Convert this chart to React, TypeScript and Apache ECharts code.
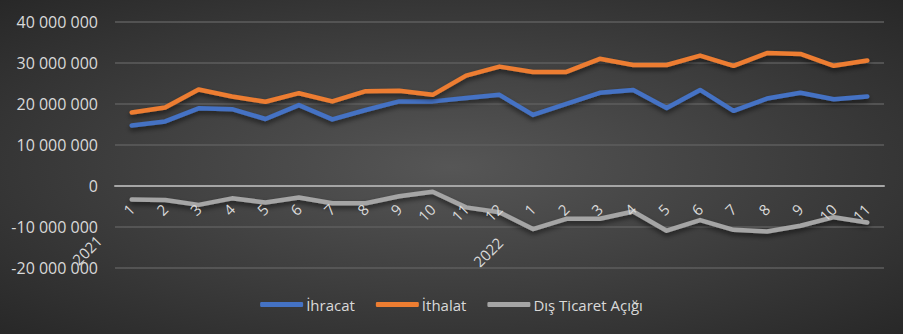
import React, { useEffect, useRef } from "react";
import * as echarts from "echarts";

const categories = ["1","2","3","4","5","6","7","8","9","10","11","12","1","2","3","4","5","6","7","8","9","10","11"];
const yearLabels = ["2021", "2022"];
const seriesNames = ["İhracat", "İthalat", "Dış Ticaret Açığı"];
const ihracat = [14.7,15.7,18.9,18.7,16.3,19.7,16.2,18.5,20.6,20.6,21.4,22.2,17.3,20.0,22.7,23.4,19.0,23.4,18.3,21.3,22.7,21.1,21.8].map(v => v * 1e6);
const ithalat = [17.9,19.1,23.5,21.8,20.5,22.6,20.6,23.1,23.2,22.2,26.9,29.1,27.8,27.8,31.0,29.5,29.5,31.8,29.3,32.4,32.2,29.3,30.6].map(v => v * 1e6);
const acik = [-3.4,-3.5,-4.7,-3.1,-4.1,-2.9,-4.3,-4.3,-2.6,-1.5,-5.3,-6.5,-10.6,-8.1,-8.1,-6.3,-11.0,-8.4,-10.8,-11.2,-9.8,-7.7,-9.0].map(v => v * 1e6);
const colors = ["#4472C4", "#ED7D31", "#A5A5A5"];

const fmt = (v: number) => {
  const s = Math.abs(v).toString().replace(/\B(?=(\d{3})+(?!\d))/g, " ");
  return (v < 0 ? "-" : "") + s;
};

export default function App() {
  const ref = useRef<HTMLDivElement>(null);
  useEffect(() => {
    if (!ref.current) return;
    const chart = echarts.init(ref.current, undefined, { renderer: "svg" });
    const font = "'Open Sans', sans-serif";
    const textColor = "#D9D9D9";
    const mk = (name: string, data: number[], color: string) => ({
      name,
      type: "line",
      data,
      symbol: "none",
      z: 2,
      lineStyle: {
        width: 4.5,
        color,
        cap: "round",
        join: "round",
        shadowColor: "rgba(0,0,0,0.55)",
        shadowBlur: 5,
        shadowOffsetY: 3,
      },
      itemStyle: { color },
    });
    chart.setOption({
      animation: false,
      backgroundColor: {
        type: "radial",
        x: 0.5,
        y: 0.5,
        r: 0.75,
        colorStops: [
          { offset: 0, color: "#565656" },
          { offset: 1, color: "#252525" },
        ],
      },
      grid: { left: 115, right: 19, top: 22, bottom: 66.5, containLabel: false },
      xAxis: {
        type: "category",
        data: categories,
        boundaryGap: true,
        offset: -82,
        z: 5,
        axisLine: { show: true, onZero: false, lineStyle: { color: "#A6A6A6", width: 2 } },
        axisTick: { show: false },
        axisLabel: { rotate: 45, color: textColor, fontFamily: font, fontSize: 15, margin: 21, interval: 0 },
        splitLine: { show: false },
      },
      yAxis: {
        type: "value",
        min: -20000000,
        max: 40000000,
        interval: 10000000,
        axisLine: { show: false },
        axisTick: { show: false },
        axisLabel: { color: textColor, fontFamily: font, fontSize: 16, margin: 17, formatter: fmt },
        splitLine: { lineStyle: { color: "#5E5E5E", width: 1.5 } },
      },
      legend: {
        data: seriesNames,
        bottom: 17,
        left: "center",
        icon: "roundRect",
        itemWidth: 43,
        itemHeight: 5,
        itemGap: 21,
        textStyle: { color: textColor, fontFamily: font, fontSize: 15, padding: [0, 0, 0, -2] },
      },
      graphic: [
        { type: "text", x: 87, y: 250, rotation: Math.PI / 4, style: { text: yearLabels[0], fill: textColor, font: `15px ${font}`, align: "center", verticalAlign: "middle" } },
        { type: "text", x: 488, y: 252, rotation: Math.PI / 4, style: { text: yearLabels[1], fill: textColor, font: `15px ${font}`, align: "center", verticalAlign: "middle" } },
      ],
      series: [
        mk(seriesNames[0], ihracat, colors[0]),
        mk(seriesNames[1], ithalat, colors[1]),
        mk(seriesNames[2], acik, colors[2]),
      ],
    });
    return () => chart.dispose();
  }, []);
  return <div ref={ref} style={{ position: "absolute", left: 0, top: 0, width: 903, height: 334 }} />;
}
